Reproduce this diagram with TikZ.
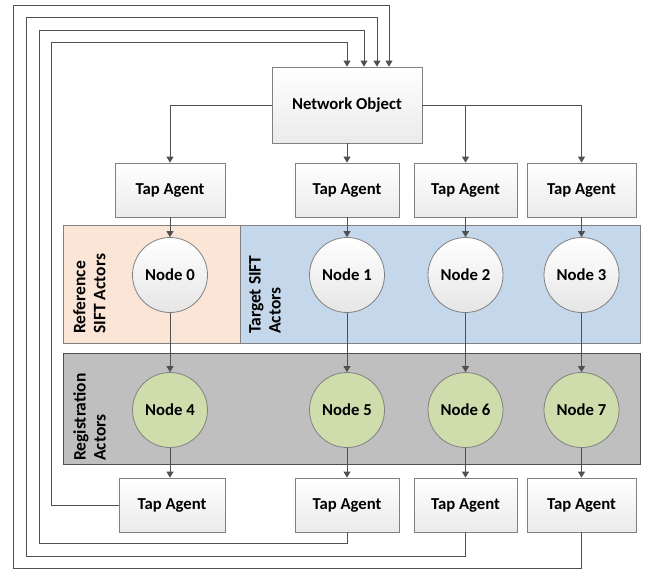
\documentclass[tikz,border=0pt]{standalone}
\usepackage{fontspec}
\setmainfont{Carlito}
\usetikzlibrary{arrows.meta}
\definecolor{linec}{RGB}{80,80,80}
\definecolor{boxc}{RGB}{128,128,128}
\definecolor{peach}{RGB}{251,229,214}
\definecolor{bluer}{RGB}{197,215,234}
\definecolor{grayr}{RGB}{191,191,191}
\definecolor{greenn}{RGB}{207,220,172}
\tikzset{
  box/.style={draw=boxc, line width=0.8pt, top color=white, bottom color=black!8, minimum width=104pt, minimum height=54pt, inner sep=0pt, font=\bfseries\fontsize{16.7}{19}\selectfont},
  wnode/.style={circle, draw=boxc, line width=0.8pt, top color=white, bottom color=black!10, minimum size=75pt, inner sep=0pt, font=\bfseries\fontsize{16.7}{19}\selectfont},
  gnode/.style={circle, draw=boxc, line width=0.8pt, fill=greenn, minimum size=75pt, inner sep=0pt, font=\bfseries\fontsize{16.7}{19}\selectfont},
  region/.style={draw=boxc, line width=0.8pt},
  lbl/.style={rotate=90, anchor=north west, align=left, inner sep=0pt, font=\bfseries\fontsize{17.5}{20}\selectfont},
  arr/.style={draw=linec, line width=0.8pt, -{Triangle[width=7pt,length=6pt]}},
}
\begin{document}
\begin{tikzpicture}[x=1pt,y=-1pt]
\useasboundingbox (0,0) rectangle (648,570);
% regions
\path[region, fill=peach] (63,225) rectangle (240,343);
\path[region, fill=bluer] (240,225) rectangle (640,343);
\path[region, fill=grayr, draw=linec] (63,353) rectangle (640,464);
\node[lbl] (lref) at (73,334) {Reference\\SIFT Actors};
\node[lbl] (ltgt) at (249,334) {Target SIFT\\Actors};
\node[lbl] (lreg) at (73,461) {Registration\\Actors};
% network object
\node[box, minimum width=150pt, minimum height=76pt] (net) at (347,105) {Network Object};
% top tap agents
\node[box, minimum width=110pt] (t0) at (170,190) {Tap Agent};
\node[box] (t1) at (347,190) {Tap Agent};
\node[box, minimum width=103pt] (t2) at (465.5,190) {Tap Agent};
\node[box, minimum width=109pt] (t3) at (581.5,190) {Tap Agent};
% nodes
\node[wnode] (n0) at (170,275) {Node 0};
\node[wnode] (n1) at (347,275) {Node 1};
\node[wnode] (n2) at (465.5,275) {Node 2};
\node[wnode] (n3) at (581.5,275) {Node 3};
\node[gnode] (n4) at (170,410) {Node 4};
\node[gnode] (n5) at (347,410) {Node 5};
\node[gnode] (n6) at (465.5,410) {Node 6};
\node[gnode] (n7) at (581.5,410) {Node 7};
% bottom tap agents
\node[box, minimum width=106pt] (b0) at (172,505) {Tap Agent};
\node[box] (b1) at (347,505) {Tap Agent};
\node[box, minimum width=103pt] (b2) at (465.5,505) {Tap Agent};
\node[box, minimum width=109pt] (b3) at (581.5,505) {Tap Agent};
% network object to top taps
\draw[arr] (net.west) -| (t0.north);
\draw[arr] (net.south) -- (t1.north);
\draw[arr] (net.east) -| (t2.north);
\draw[arr] (net.east) -| (t3.north);
% vertical chains
\foreach \a/\b/\c/\d in {t0/n0/n4/b0, t1/n1/n5/b1, t2/n2/n6/b2, t3/n3/n7/b3}{
  \draw[arr] (\a.south) -- (\b.north);
  \draw[arr] (\b.south) -- (\c.north);
  \draw[arr] (\c.south) -- (\c.south |- \d.north);
}
% feedback loops
\draw[arr] (b0.west) -- (51,505) -- (51,42) -| (net.north);
\draw[arr] (b1.south) -- (347,543) -- (39,543) -- (39,30) -| ([xshift=17pt]net.north);
\draw[arr] (b2.south) -- (465.5,556) -- (26,556) -- (26,17) -| ([xshift=30pt]net.north);
\draw[arr] (b3.south) -- (581.5,568) -- (13,568) -- (13,5) -| ([xshift=42pt]net.north);
\end{tikzpicture}
\end{document}
